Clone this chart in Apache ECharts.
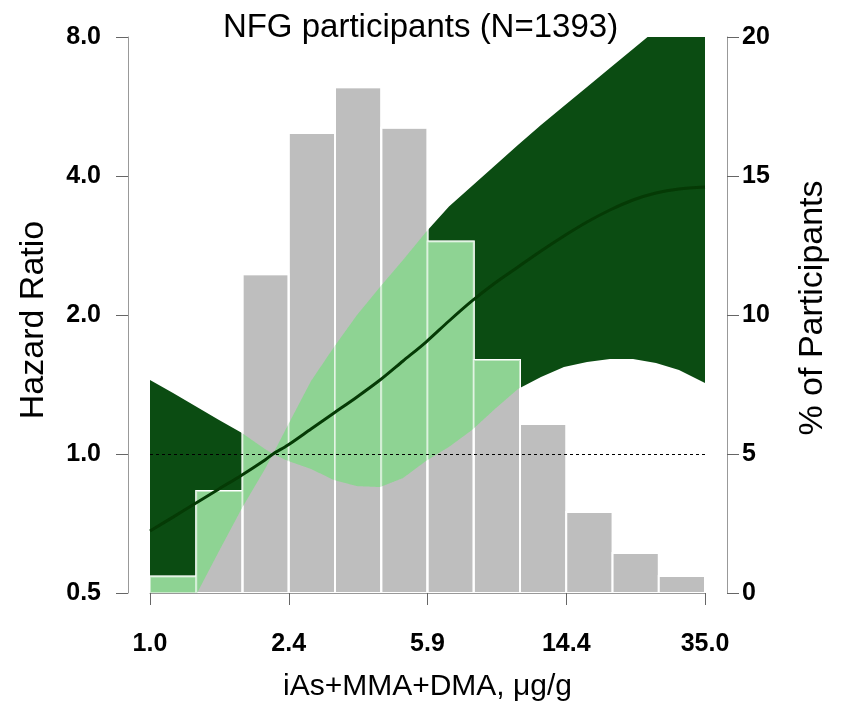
<!DOCTYPE html>
<html><head><meta charset="utf-8">
<script src="https://cdn.jsdelivr.net/npm/echarts@6/dist/echarts.min.js"></script>
<style>html,body{margin:0;padding:0;background:#fff}#c{width:841px;height:709px}</style>
</head><body><div id="c"></div>
<script>
// ---- data ----
const xs          = [1.000, 1.159, 1.343, 1.556, 1.803, 2.089, 2.199, 2.421, 2.805, 3.250, 3.766, 4.364, 5.057, 5.860, 6.789, 7.867, 9.116, 10.56, 12.24, 14.18, 16.44, 19.04, 22.07, 25.57, 29.63, 35.00];
const hrEstimate  = [0.681, 0.730, 0.783, 0.840, 0.901, 0.971, 1.000, 1.046, 1.133, 1.227, 1.329, 1.446, 1.590, 1.748, 1.941, 2.145, 2.346, 2.541, 2.752, 2.966, 3.180, 3.376, 3.549, 3.675, 3.749, 3.787];
const hrLower     = [0.321, 0.400, 0.495, 0.616, 0.764, 0.928, 1.000, 0.966, 0.928, 0.878, 0.852, 0.848, 0.887, 0.966, 1.036, 1.127, 1.252, 1.383, 1.468, 1.543, 1.582, 1.606, 1.606, 1.574, 1.520, 1.425];
const hrUpper     = [1.446, 1.356, 1.267, 1.185, 1.110, 1.025, 1.000, 1.156, 1.439, 1.705, 2.000, 2.300, 2.631, 3.026, 3.437, 3.806, 4.217, 4.670, 5.159, 5.671, 6.234, 6.854, 7.536, 8.283, 9.107, 10.11];
const binEdges    = [1.0, 1.345, 1.809, 2.432, 3.271, 4.399, 5.916, 7.957, 10.70, 14.39, 19.36, 26.03, 35.0];
const pctParticipants = [0.59, 3.67, 11.47, 16.55, 18.19, 16.74, 12.64, 8.38, 6.08, 2.91, 1.44, 0.61];
const xTickLabels   = ['1.0', '2.4', '5.9', '14.4', '35.0'];
const hrTickLabels  = ['0.5', '1.0', '2.0', '4.0', '8.0'];
const pctTickLabels = ['0', '5', '10', '15', '20'];
const refHR = 1;

const HR_MIN = 0.5, HR_MAX = 8, PCT_MAX = 20, X_MIN = 1, X_MAX = 35;
const DARK = '#0b4c12', LIGHT = '#8ed393', GREY = '#bebebe', LINE = '#053a05';
const FONT = "'Liberation Sans', Arial, Helvetica, sans-serif";

function pctToHr(p) { return HR_MIN * Math.pow(HR_MAX / HR_MIN, p / PCT_MAX); }
function curvePx(api, arr) { return xs.map((x, i) => api.coord([x, arr[i]])); }
function interp(pts, px) {
  if (px <= pts[0][0]) return pts[0][1];
  for (let i = 1; i < pts.length; i++) {
    if (px <= pts[i][0]) {
      const t = (px - pts[i - 1][0]) / (pts[i][0] - pts[i - 1][0]);
      return pts[i - 1][1] + t * (pts[i][1] - pts[i - 1][1]);
    }
  }
  return pts[pts.length - 1][1];
}

const chart = echarts.init(document.getElementById('c'), null, { renderer: 'canvas' });

const tickLabelStyle = { fontSize: 25, fontWeight: 'bold', color: '#000', fontFamily: FONT };

const option = {
  animation: false,
  backgroundColor: '#fff',
  textStyle: { fontFamily: FONT },
  title: {
    text: 'NFG participants (N=1393)',
    left: 'center', top: 6,
    textStyle: { fontSize: 33, fontWeight: 'normal', color: '#000', fontFamily: FONT }
  },
  grid: { left: 150, right: 136, top: 37, bottom: 116, containLabel: false, outerBoundsMode: 'none' },
  xAxis: {
    type: 'log', logBase: Math.pow(X_MAX, 0.25), min: X_MIN, max: X_MAX, interval: 1,
    offset: 22,
    axisLine: { show: true, lineStyle: { color: '#999', width: 1 } },
    axisTick: { show: true, length: 12, lineStyle: { color: '#666' } },
    axisLabel: Object.assign({ margin: 17,
      formatter: (v, i) => xTickLabels[i] !== undefined ? xTickLabels[i] : v.toFixed(1) }, tickLabelStyle),
    splitLine: { show: false },
    name: 'iAs+MMA+DMA, μg/g', nameLocation: 'middle', nameGap: 57,
    nameTextStyle: { fontSize: 30, color: '#000', fontFamily: FONT }
  },
  yAxis: [{
    type: 'log', logBase: 2, min: HR_MIN, max: HR_MAX, interval: 1,
    position: 'left', offset: 22,
    axisLine: { show: true, lineStyle: { color: '#999', width: 1 } },
    axisTick: { show: true, length: 12, lineStyle: { color: '#666' } },
    axisLabel: Object.assign({ margin: 27,
      formatter: (v, i) => hrTickLabels[i] !== undefined ? hrTickLabels[i] : v.toFixed(1) }, tickLabelStyle),
    splitLine: { show: false },
    name: 'Hazard Ratio', nameLocation: 'middle', nameGap: 77,
    nameTextStyle: { fontSize: 34, color: '#000', fontFamily: FONT, padding: [0, 10, 0, 0] }
  }, {
    type: 'value', min: 0, max: PCT_MAX, interval: 5,
    position: 'right', offset: 22,
    axisLine: { show: true, lineStyle: { color: '#999', width: 1 } },
    axisTick: { show: true, length: 12, lineStyle: { color: '#666' } },
    axisLabel: Object.assign({ margin: 15,
      formatter: (v, i) => pctTickLabels[i] !== undefined ? pctTickLabels[i] : String(v) }, tickLabelStyle),
    splitLine: { show: false },
    name: '% of Participants', nameLocation: 'middle', nameGap: 69,
    nameTextStyle: { fontSize: 34, color: '#000', fontFamily: FONT, padding: [0, 0, 0, 14] }
  }],
  series: [
    { // confidence band
      type: 'custom', name: 'CI', z: 1, clip: true, silent: true,
      xAxisIndex: 0, yAxisIndex: 0,
      data: [[xs[0], hrEstimate[0]]],
      renderItem: function (params, api) {
        const up = curvePx(api, hrUpper), lo = curvePx(api, hrLower);
        return { type: 'polygon', shape: { points: up.concat(lo.slice().reverse()) },
                 style: { fill: DARK } };
      }
    },
    { // histogram bars
      type: 'custom', name: 'bars', z: 2, clip: true, silent: true,
      xAxisIndex: 0, yAxisIndex: 1,
      data: pctParticipants.map((p, i) => [binEdges[i], binEdges[i + 1], p]),
      encode: { x: [0, 1], y: 2 },
      renderItem: function (params, api) {
        const a = api.coord([api.value(0), 0]);
        const b = api.coord([api.value(1), api.value(2)]);
        return { type: 'rect', shape: { x: a[0], y: b[1], width: b[0] - a[0], height: a[1] - b[1] },
                 style: { fill: GREY, stroke: '#fff', lineWidth: 2 } };
      }
    },
    { // overlap of bars and band
      type: 'custom', name: 'overlap', z: 3, clip: true, silent: true,
      xAxisIndex: 0, yAxisIndex: 0,
      data: pctParticipants.map((p, i) => [binEdges[i], binEdges[i + 1], pctToHr(p)]),
      encode: { x: [0, 1], y: 2 },
      renderItem: function (params, api) {
        const a = api.coord([api.value(0), HR_MIN]);
        const b = api.coord([api.value(1), api.value(2)]);
        const xa = a[0], xb = b[0], yBase = a[1], yTop = b[1];
        const up = curvePx(api, hrUpper), lo = curvePx(api, hrLower);
        const topPts = [], botPts = [];
        const n = Math.max(2, Math.ceil((xb - xa) * 2));
        let any = false;
        for (let k = 0; k <= n; k++) {
          const px = xa + (xb - xa) * k / n;
          const yu = interp(up, px), yl = interp(lo, px);
          const t = Math.max(yu, yTop);
          let bt = Math.min(yl, yBase);
          if (bt < t) bt = t; else any = true;
          topPts.push([px, t]); botPts.push([px, bt]);
        }
        const children = [
          { type: 'polygon', shape: { points: topPts.concat(botPts.reverse()) }, style: { fill: LIGHT } }
        ];
        if (any) children.push({ type: 'rect',
          shape: { x: xa, y: yTop, width: xb - xa, height: yBase - yTop },
          style: { fill: 'none', stroke: 'rgba(255,255,255,0.5)', lineWidth: 2 } });
        return { type: 'group', children: children };
      }
    },
    { // estimate
      type: 'line', name: 'HR', z: 5, xAxisIndex: 0, yAxisIndex: 0,
      data: xs.map((x, i) => [x, hrEstimate[i]]),
      smooth: 0.3, showSymbol: false, silent: true,
      lineStyle: { color: LINE, width: 3 },
      markLine: {
        silent: true, symbol: 'none', label: { show: false },
        lineStyle: { type: [3, 3], color: '#000', width: 1 },
        data: [{ yAxis: refHR }]
      }
    }
  ]
};
chart.setOption(option);
</script></body></html>
